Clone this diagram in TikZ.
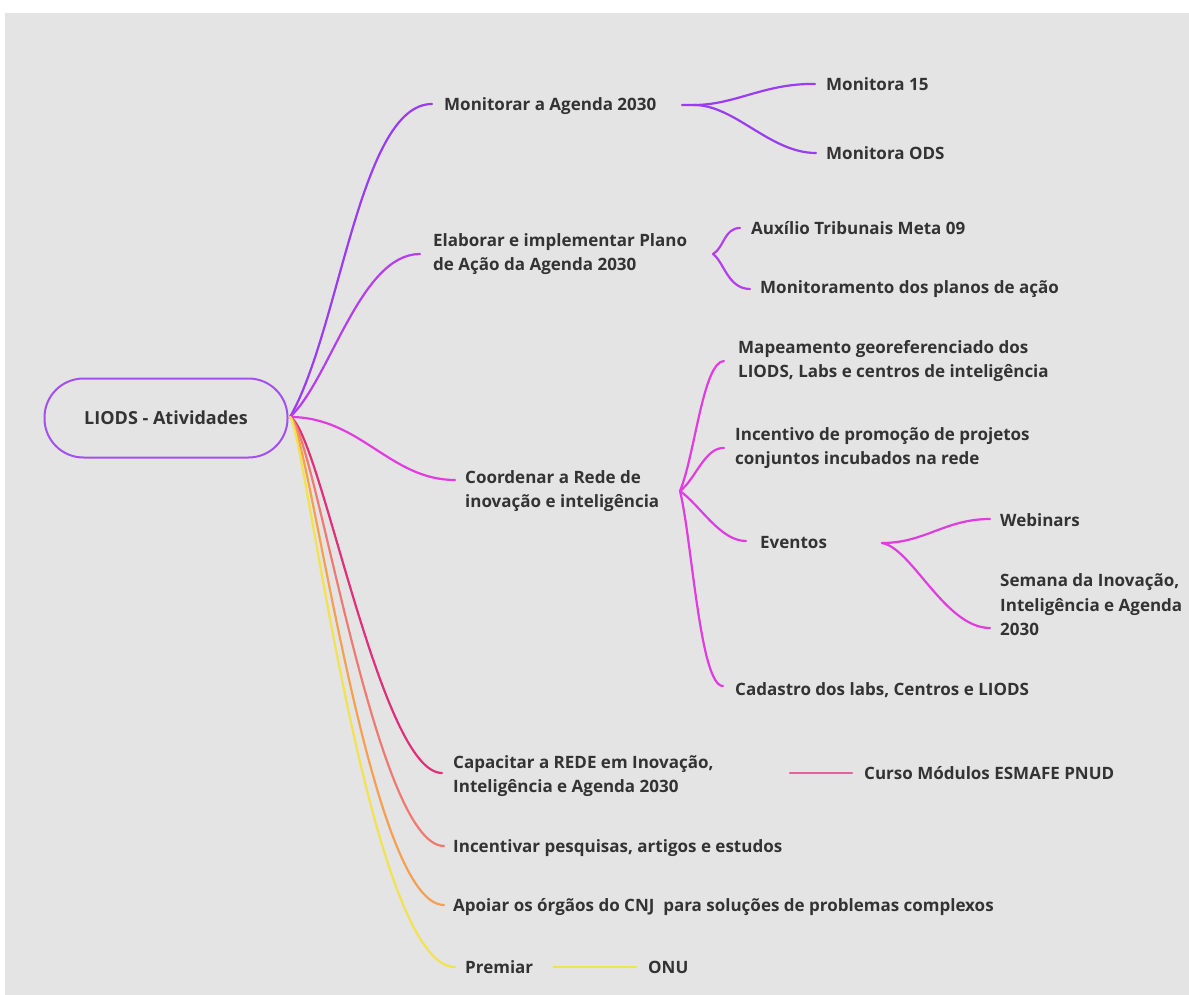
\documentclass[tikz,border=0pt]{standalone}
\usepackage{fontspec}
\setmainfont{Open Sans}
\begin{document}
\begin{tikzpicture}[x=1pt,y=-1pt,
  lbl/.style={anchor=west,inner sep=0pt,font=\fontsize{17}{24.5}\selectfont\bfseries,text=black!80,align=left},
  conn/.style={line width=2.2pt,line cap=round},
  cViolet/.style={conn,draw=cv},
  cPurple/.style={conn,draw=cp},
  cMag/.style={conn,draw=cm},
  cCrim/.style={conn,draw=cc},
  cSalm/.style={conn,draw=cs},
  cOra/.style={conn,draw=co},
  cYel/.style={conn,draw=cy},
  cPink/.style={conn,draw=cpk}
]
\definecolor{bg}{HTML}{E4E4E4}
\definecolor{cv}{HTML}{9A3CF2}
\definecolor{cp}{HTML}{B53EEE}
\definecolor{cm}{HTML}{E03CE0}
\definecolor{cc}{HTML}{E0307A}
\definecolor{cs}{HTML}{F07A72}
\definecolor{co}{HTML}{F5A050}
\definecolor{cy}{HTML}{F2E250}
\definecolor{cpk}{HTML}{E8609A}
\definecolor{rootc}{HTML}{A450EE}
\useasboundingbox (0,0) rectangle (1189,995);
\fill[white] (0,0) rectangle (1189,995);
\fill[bg] (5,13) rectangle (1189,995);

% root
\node[draw=rootc,line width=2pt,rounded corners=39pt,minimum width=243pt,minimum height=79pt,
  font=\fontsize{18}{24.5}\selectfont\bfseries,text=black!80] (root) at (166,418) {LIODS - Atividades};

% level 1
\node[lbl] (m1) at (444,106) {Monitorar a Agenda 2030};
\node[lbl] (m2) at (433,254) {Elaborar e implementar Plano\\de Ação da Agenda 2030};
\node[lbl] (m3) at (465,491) {Coordenar a Rede de\\inovação e inteligência};
\node[lbl] (m4) at (453,776) {Capacitar a REDE em Inovação,\\Inteligência e Agenda 2030};
\node[lbl] (m5) at (453,848) {Incentivar pesquisas, artigos e estudos};
\node[lbl] (m6) at (453,907) {Apoiar os órgãos do CNJ\ \ para soluções de problemas complexos};
\node[lbl] (m7) at (465,967) {Premiar};

% level 2
\node[lbl] (a1) at (826,84) {Monitora 15};
\node[lbl] (a2) at (826,153) {Monitora ODS};
\node[lbl] (b1) at (751,228) {Auxílio Tribunais Meta 09};
\node[lbl] (b2) at (760,289) {Monitoramento dos planos de ação};
\node[lbl] (c1) at (738,361) {Mapeamento georeferenciado dos\\LIODS, Labs e centros de inteligência};
\node[lbl] (c2) at (735,448) {Incentivo de promoção de projetos\\conjuntos incubados na rede};
\node[lbl] (c3) at (760,543) {Eventos};
\node[lbl] (c4) at (735,690) {Cadastro dos labs, Centros e LIODS};
\node[lbl] (d1) at (1000,520) {Webinars};
\node[lbl] (d2) at (1000,605) {Semana da Inovação,\\Inteligência e Agenda\\2030};
\node[lbl] (e1) at (864,773) {Curso Módulos ESMAFE PNUD};
\node[lbl] (onu) at (648,967) {ONU};

% fork points
\coordinate (r) at (290,417);
\coordinate (f1) at (682,105);
\coordinate (f2) at (713,254);
\coordinate (f3) at (680,491);
\coordinate (f4) at (882,543);

% root connectors
\draw[cViolet] (r) .. controls (340,330) and (360,104) .. ([xshift=-12pt,yshift=2pt]m1.west);
\draw[cPurple] (r) .. controls (330,380) and (360,254) .. ([xshift=-13pt]m2.west);
\draw[cMag] (r) .. controls (360,417) and (390,480) .. ([xshift=-10pt,yshift=11pt]m3.west);
\draw[cCrim] (r) .. controls (320,430) and (380,773) .. ([xshift=-11pt,yshift=3pt]m4.west);
\draw[cSalm] (r) .. controls (315,430) and (375,846) .. ([xshift=-9pt,yshift=2pt]m5.west);
\draw[cOra] (r) .. controls (310,430) and (368,905) .. ([xshift=-9pt,yshift=2pt]m6.west);
\draw[cYel] (r) .. controls (305,430) and (368,967) .. ([xshift=-10pt]m7.west);

% Monitorar subtree
\draw[cViolet] (f1) -- ++(12,0) .. controls (735,105) and (765,83) .. ([xshift=-11pt]a1.west);
\draw[cViolet] (f1) ++(12,0) .. controls (735,105) and (770,153) .. ([xshift=-10pt]a2.west);

% Elaborar subtree
\draw[cPurple] (f2) .. controls (724,248) and (724,228) .. ([xshift=-11pt]b1.west);
\draw[cPurple] (f2) .. controls (724,262) and (728,289) .. ([xshift=-10pt]b2.west);

% Coordenar subtree
\draw[cMag] (f3) .. controls (695,455) and (703,362) .. ([xshift=-14pt]c1.west);
\draw[cMag] (f3) .. controls (695,480) and (705,447) .. ([xshift=-11pt]c2.west);
\draw[cMag] (f3) .. controls (700,505) and (720,541) .. ([xshift=-14pt,yshift=2pt]c3.west);
\draw[cMag] (f3) .. controls (692,540) and (700,686) .. ([xshift=-12pt,yshift=4pt]c4.west);

% Eventos subtree
\draw[cMag] (f4) .. controls (925,543) and (945,519) .. ([xshift=-10pt,yshift=1pt]d1.west);
\draw[cMag] (f4) .. controls (912,548) and (945,628) .. ([xshift=-10pt,yshift=-23pt]d2.west);

% Capacitar -> Curso
\draw[cPink] ([xshift=-74pt]e1.west) -- ([xshift=-12pt]e1.west);
% Premiar -> ONU
\draw[cYel] ([xshift=20pt]m7.east) -- ([xshift=-12pt]onu.west);
\end{tikzpicture}
\end{document}
